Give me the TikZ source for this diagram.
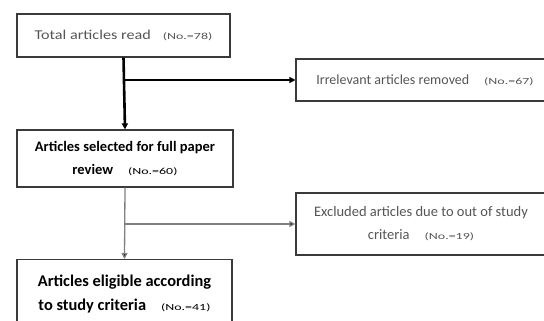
\documentclass[tikz,border=0pt]{standalone}
\usepackage{fontspec}
\setmainfont{Carlito}
\newfontfamily\numfont[FakeStretch=1.5]{Carlito}
\newfontfamily\widefont[FakeStretch=1.2]{Carlito}
\usetikzlibrary{arrows.meta}
\definecolor{boxline}{HTML}{3A3A3A}
\definecolor{greytext}{HTML}{555555}
\newcommand{\numtag}[1]{{\numfont\mdseries\fontsize{9.3}{11}\selectfont(No.=#1)}}
\tikzset{
  box/.style={draw=boxline, line width=1.2pt, align=center, inner sep=0pt},
}
\begin{document}
\begin{tikzpicture}[x=1pt,y=-1pt,>={Triangle[length=6pt,width=6pt]}]
  \useasboundingbox (0,0) rectangle (544,321);
  \clip (0,0) rectangle (544,321);

  % main column
  \node[box, minimum width=213pt, minimum height=43pt, text=greytext,
        font=\widefont\fontsize{13.5}{16}\selectfont] (total) at (123.5,35.5)
        {Total articles read\hspace{12pt}\numtag{78}};
  \node[box, minimum width=216pt, minimum height=57pt,
        font=\bfseries\fontsize{14.5}{23}\selectfont] (selected) at (125,158.5)
        {Articles selected for full paper\\review\hspace{15pt}\numtag{60}};
  \node[box, minimum width=215pt, minimum height=72pt, anchor=north] (eligible) at (124.5,259) {};
  \node[font=\bfseries\fontsize{16.4}{24}\selectfont, align=center] (eligibletxt) at (124.5,294)
        {Articles eligible according\\to study criteria\hspace{15pt}\numtag{41}};

  % side boxes
  \node[box, minimum width=250pt, minimum height=42pt, text=greytext,
        font=\fontsize{14}{17}\selectfont] (irrelevant) at (421,80)
        {\hspace{8pt}Irrelevant articles removed\hspace{15pt}\numtag{67}};
  \node[box, minimum width=250pt, minimum height=62pt, text=greytext,
        font=\fontsize{14.5}{23}\selectfont] (excluded) at (421,224)
        {Excluded articles due to out of study\\criteria\hspace{15pt}\numtag{19}};

  % connectors
  \coordinate (split1) at (total.south |- irrelevant.west);
  \draw[line width=2.6pt, ->] (total.south) -- (selected.north);
  \draw[line width=2.6pt, ->] (split1) -- (irrelevant.west);

  \coordinate (split2) at (selected.south |- excluded.west);
  \draw[line width=1.3pt, draw=gray, ->, >={Triangle[length=6pt,width=6pt,fill=black]}] (selected.south) -- (eligible.north);
  \draw[line width=1.3pt, draw=gray, ->, >={Triangle[length=6pt,width=6pt,fill=black]}] (split2) -- (excluded.west);
\end{tikzpicture}
\end{document}
